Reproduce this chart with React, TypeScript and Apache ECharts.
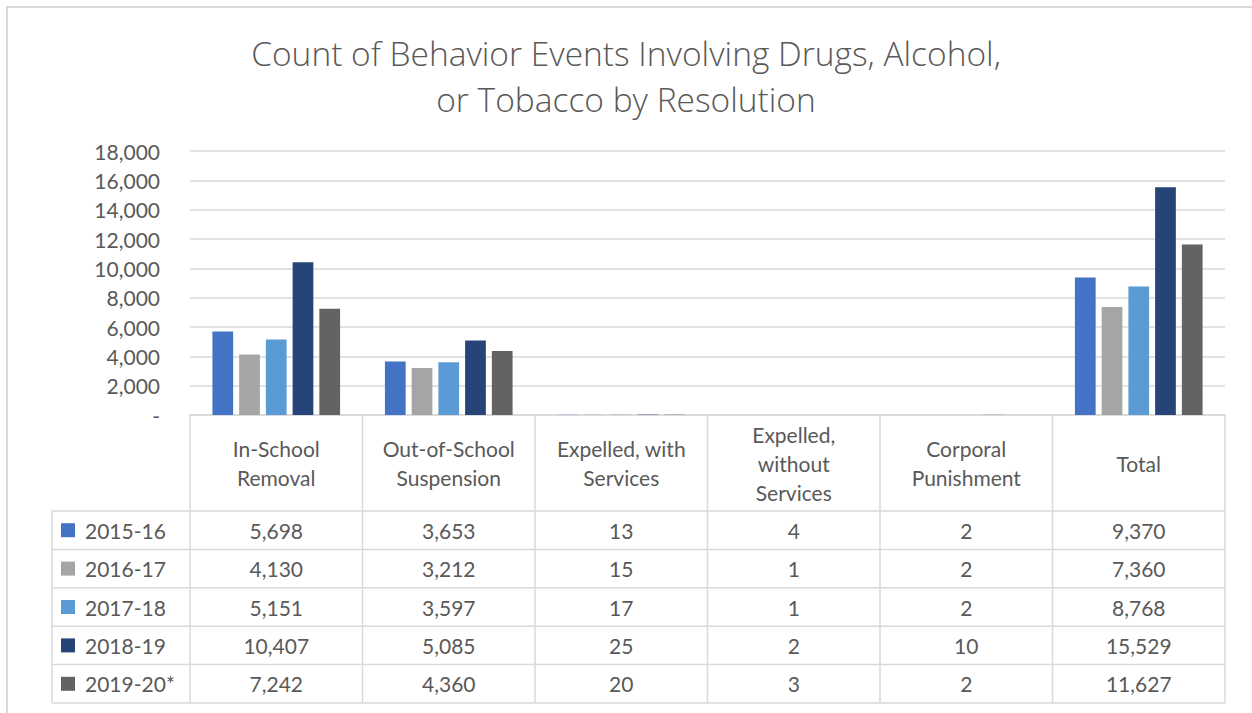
import React, { useEffect, useRef } from "react";
import * as echarts from "echarts";

// Resolution categories (line breaks used in the table header)
const categories = [
  "In-School\nRemoval",
  "Out-of-School\nSuspension",
  "Expelled, with\nServices",
  "Expelled,\nwithout\nServices",
  "Corporal\nPunishment",
  "Total",
];

const years = ["2015-16", "2016-17", "2017-18", "2018-19", "2019-20*"];

const v2015 = [5698, 3653, 13, 4, 2, 9370];
const v2016 = [4130, 3212, 15, 1, 2, 7360];
const v2017 = [5151, 3597, 17, 1, 2, 8768];
const v2018 = [10407, 5085, 25, 2, 10, 15529];
const v2019 = [7242, 4360, 20, 3, 2, 11627];

const seriesValues = [v2015, v2016, v2017, v2018, v2019];
const colors = ["#4472C4", "#A5A5A5", "#5B9BD5", "#264478", "#636363"];

const yTicks = { min: 0, max: 18000, interval: 2000 };

const W = 1252;
const H = 713;
const GRID_LEFT = 190;
const GRID_RIGHT = 1225;
const GRID_TOP = 151;
const AXIS_Y = 415;
const HEADER_BOTTOM = 511;
const ROW_H = 38.4;
const TABLE_LEFT = 52;
const FONT = "Lato, 'Open Sans', sans-serif";
const TITLE_FONT = "'Open Sans', Lato, sans-serif";
const TEXT_COLOR = "#595959";
const LINE_COLOR = "#D9D9D9";

const fmt = (n: number) => n.toLocaleString("en-US");

function buildTable() {
  const els: any[] = [];
  const colW = (GRID_RIGHT - GRID_LEFT) / categories.length;
  const bottom = HEADER_BOTTOM + ROW_H * years.length;
  const line = (x1: number, y1: number, x2: number, y2: number) => ({
    type: "line",
    shape: { x1, y1, x2, y2 },
    style: { stroke: LINE_COLOR, lineWidth: 1.5 },
    silent: true,
  });

  // vertical lines of the category columns
  for (let i = 0; i <= categories.length; i++) {
    const x = GRID_LEFT + i * colW;
    els.push(line(x, AXIS_Y, x, bottom));
  }
  // left edge of the legend column
  els.push(line(TABLE_LEFT, HEADER_BOTTOM, TABLE_LEFT, bottom));
  // horizontal row lines
  for (let r = 0; r <= years.length; r++) {
    const y = HEADER_BOTTOM + r * ROW_H;
    els.push(line(TABLE_LEFT, y, GRID_RIGHT, y));
  }

  // header labels
  categories.forEach((c, i) => {
    els.push({
      type: "text",
      x: GRID_LEFT + (i + 0.5) * colW,
      y: (AXIS_Y + HEADER_BOTTOM) / 2,
      silent: true,
      style: {
        text: c,
        fill: TEXT_COLOR,
        font: `21px ${FONT}`,
        lineHeight: 29,
        align: "center",
        verticalAlign: "middle",
      },
    });
  });

  // rows
  years.forEach((yr, r) => {
    const cy = HEADER_BOTTOM + (r + 0.5) * ROW_H;
    els.push({
      type: "rect",
      shape: { x: 61, y: cy - 7, width: 14, height: 14 },
      style: { fill: colors[r] },
      silent: true,
    });
    els.push({
      type: "text",
      x: 85,
      y: cy,
      silent: true,
      style: {
        text: yr,
        fill: TEXT_COLOR,
        font: `21px ${FONT}`,
        align: "left",
        verticalAlign: "middle",
      },
    });
    seriesValues[r].forEach((v, i) => {
      els.push({
        type: "text",
        x: GRID_LEFT + (i + 0.5) * colW,
        y: cy,
        silent: true,
        style: {
          text: fmt(v),
          fill: TEXT_COLOR,
          font: `21px ${FONT}`,
          align: "center",
          verticalAlign: "middle",
        },
      });
    });
  });

  // outer chart border
  els.push({
    type: "rect",
    shape: { x: 7, y: 7, width: 1400, height: 900 },
    style: { fill: "none", stroke: LINE_COLOR, lineWidth: 2 },
    silent: true,
  });
  return els;
}

export default function App() {
  const ref = useRef<HTMLDivElement>(null);

  useEffect(() => {
    if (!ref.current) return;
    const chart = echarts.init(ref.current, null, { renderer: "svg" });
    chart.setOption({
      animation: false,
      backgroundColor: "#ffffff",
      title: {
        text: "Count of Behavior Events Involving Drugs, Alcohol,\nor Tobacco by Resolution",
        left: "center",
        top: 25,
        textStyle: {
          fontFamily: TITLE_FONT,
          fontWeight: 300,
          fontSize: 33.5,
          lineHeight: 46,
          color: TEXT_COLOR,
        },
      },
      grid: {
        left: GRID_LEFT,
        right: W - GRID_RIGHT,
        top: GRID_TOP,
        bottom: H - AXIS_Y,
        containLabel: false,
      },
      xAxis: {
        type: "category",
        data: categories,
        axisLine: { show: true, lineStyle: { color: LINE_COLOR, width: 1.5 } },
        axisTick: { show: false },
        axisLabel: { show: false },
        splitLine: { show: false },
      },
      yAxis: {
        type: "value",
        min: yTicks.min,
        max: yTicks.max,
        interval: yTicks.interval,
        axisLine: { show: false },
        axisTick: { show: false },
        splitLine: { lineStyle: { color: LINE_COLOR, width: 1.5 } },
        axisLabel: {
          margin: 30,
          color: TEXT_COLOR,
          fontFamily: FONT,
          fontSize: 21,
          formatter: (v: number) => (v === 0 ? "-" : fmt(v)),
        },
      },
      series: years.map((yr, i) => ({
        name: yr,
        type: "bar",
        data: seriesValues[i],
        barCategoryGap: "26%",
        barGap: "29%",
        itemStyle: { color: colors[i] },
      })),
      graphic: buildTable(),
    });
    return () => chart.dispose();
  }, []);

  return (
    <div
      ref={ref}
      style={{ position: "fixed", left: 0, top: 0, width: W, height: H }}
    />
  );
}
